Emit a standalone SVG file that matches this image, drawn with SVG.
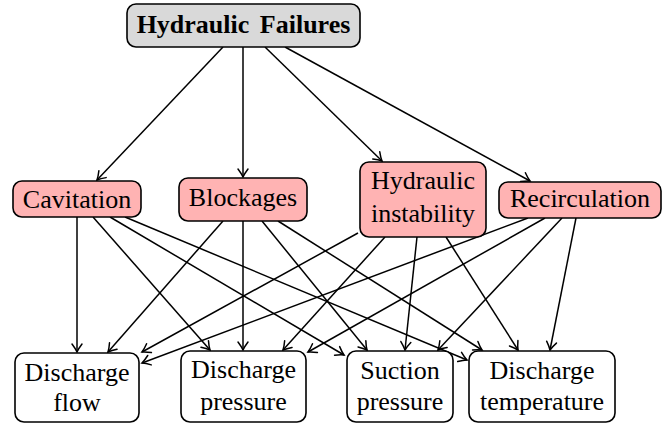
<svg xmlns="http://www.w3.org/2000/svg" width="669" height="425" viewBox="0 0 669 425">
<style>
.box{stroke:#000;stroke-width:1.6}
.top{fill:#d9d9d9}
.mid{fill:#ffb3b3}
.bot{fill:#fff}
text{font-family:"Liberation Serif","Times New Roman",serif;font-size:26px;fill:#000;text-anchor:middle}
.b{font-weight:bold}
.e{stroke:#000;stroke-width:1.5;fill:none;marker-end:url(#arr)}
</style>
<defs>
<marker id="arr" markerUnits="userSpaceOnUse" markerWidth="16" markerHeight="16" viewBox="-12 -8 14 16" refX="0" refY="0" orient="auto">
<path d="M-8,-5 Q-3.5,-1.6 0,0 Q-3.5,1.6 -8,5" fill="none" stroke="#000" stroke-width="1.5" stroke-linecap="round"/>
</marker>
</defs>
<rect width="669" height="425" fill="#fff"/>
<g id="edges">
<line class="e" x1="223" y1="47" x2="97" y2="180"/>
<line class="e" x1="243" y1="47" x2="243" y2="177"/>
<line class="e" x1="265" y1="47" x2="382" y2="161"/>
<line class="e" x1="285" y1="47" x2="530" y2="181"/>
<line class="e" x1="77" y1="217" x2="77" y2="352"/>
<line class="e" x1="93" y1="217" x2="210" y2="350"/>
<line class="e" x1="110" y1="217" x2="344" y2="355"/>
<line class="e" x1="125" y1="217" x2="467" y2="360"/>
<line class="e" x1="223" y1="221" x2="108" y2="352"/>
<line class="e" x1="243" y1="221" x2="243" y2="350"/>
<line class="e" x1="262" y1="221" x2="367" y2="350"/>
<line class="e" x1="278" y1="221" x2="482" y2="350"/>
<line class="e" x1="358" y1="233" x2="142" y2="352"/>
<line class="e" x1="385" y1="237" x2="283" y2="350"/>
<line class="e" x1="417" y1="237" x2="405" y2="350"/>
<line class="e" x1="446" y1="237" x2="518" y2="350"/>
<line class="e" x1="528" y1="218" x2="142" y2="363"/>
<line class="e" x1="545" y1="218" x2="308" y2="352"/>
<line class="e" x1="562" y1="218" x2="438" y2="350"/>
<line class="e" x1="576" y1="218" x2="550" y2="350"/>
</g>
<g id="hydraulic-failures">
<rect class="box top" x="127" y="4" width="233" height="43" rx="9"/>
<text class="b" x="243.5" y="33" word-spacing="4">Hydraulic Failures</text>
</g>
<g id="cavitation">
<rect class="box mid" x="13" y="181" width="128" height="36" rx="9"/>
<text x="77" y="208">Cavitation</text>
</g>
<g id="blockages">
<rect class="box mid" x="179" y="178" width="128" height="43" rx="9"/>
<text x="243" y="206">Blockages</text>
</g>
<g id="hydraulic-instability">
<rect class="box mid" x="360" y="162" width="126" height="75" rx="9"/>
<text x="423" y="189">Hydraulic</text>
<text x="423" y="222">instability</text>
</g>
<g id="recirculation">
<rect class="box mid" x="499" y="182" width="162" height="36" rx="9"/>
<text x="580" y="207">Recirculation</text>
</g>
<g id="discharge-flow">
<rect class="box bot" x="15" y="353" width="124" height="69" rx="9"/>
<text x="77" y="381">Discharge</text>
<text x="77" y="411">flow</text>
</g>
<g id="discharge-pressure">
<rect class="box bot" x="181" y="351" width="125" height="71" rx="9"/>
<text x="243.5" y="378">Discharge</text>
<text x="243.5" y="410">pressure</text>
</g>
<g id="suction-pressure">
<rect class="box bot" x="347" y="351" width="106" height="71" rx="9"/>
<text x="400" y="379">Suction</text>
<text x="400" y="410">pressure</text>
</g>
<g id="discharge-temperature">
<rect class="box bot" x="469" y="351" width="146" height="71" rx="9"/>
<text x="542" y="379">Discharge</text>
<text x="542" y="410">temperature</text>
</g>
</svg>
